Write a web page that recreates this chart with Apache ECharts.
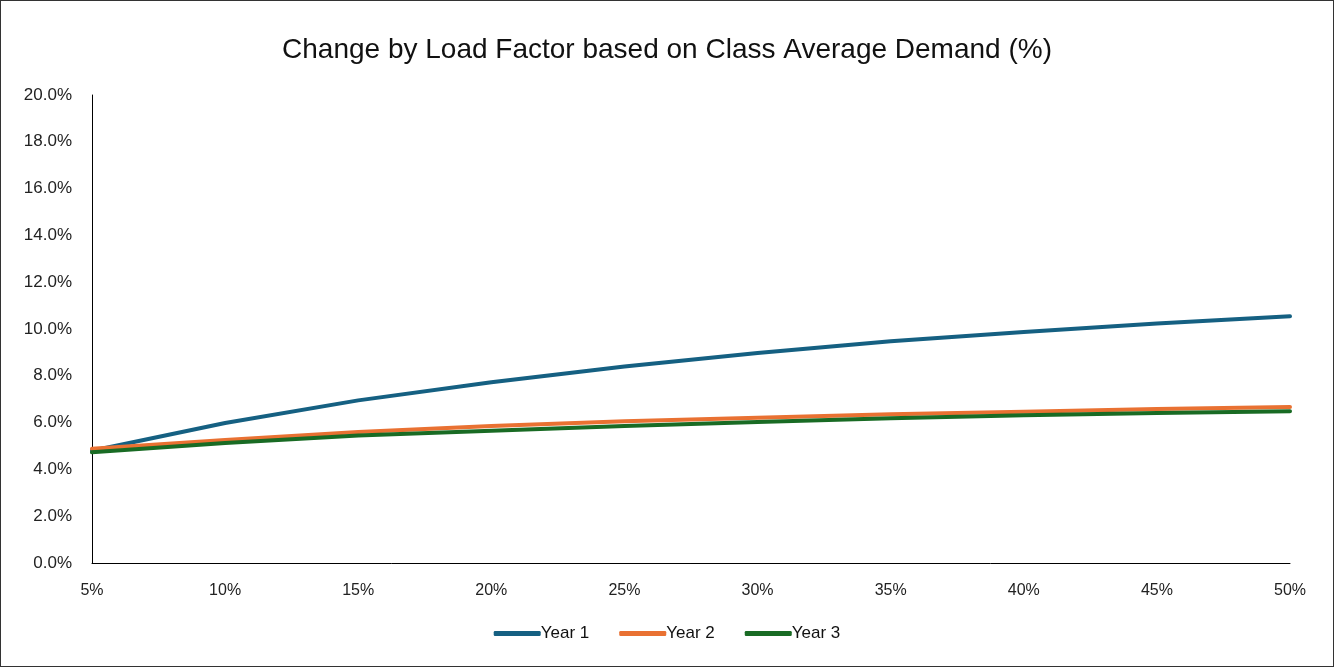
<!DOCTYPE html>
<html><head><meta charset="utf-8">
<script src="https://cdn.jsdelivr.net/npm/echarts@6/dist/echarts.min.js"></script>
<style>
html,body{margin:0;padding:0;background:#fff;}
#frame{position:absolute;left:0;top:0;width:1332px;height:665px;border:1px solid #333;}
#c{position:absolute;left:0;top:0;width:1334px;height:667px;}
</style></head>
<body><div id="frame"></div><div id="c"></div>
<script>
const categories = ['5%','10%','15%','20%','25%','30%','35%','40%','45%','50%'];
const year1 = [4.80, 5.98, 6.95, 7.72, 8.40, 8.97, 9.48, 9.87, 10.24, 10.54];
const year2 = [4.88, 5.26, 5.60, 5.85, 6.06, 6.21, 6.36, 6.46, 6.58, 6.67];
const year3 = [4.73, 5.13, 5.45, 5.65, 5.85, 6.03, 6.19, 6.31, 6.41, 6.49];
const seriesNames = ['Year 1','Year 2','Year 3'];
const colors = ['#156082','#E97132','#196B24'];

const chart = echarts.init(document.getElementById('c'));
const font = '"Liberation Sans", Arial, sans-serif';
chart.setOption({
  animation:false,
  title:{text:'Change by Load Factor based on Class Average Demand (%)',left:'center',top:31,
    textStyle:{fontFamily:font,fontSize:28,fontWeight:'normal',color:'#111'}},
  grid:{left:92,right:44,top:95,bottom:104,containLabel:false},
  legend:{bottom:20,left:'center',itemWidth:47,itemHeight:5,itemGap:30,icon:'roundRect',
    data:seriesNames,textStyle:{fontFamily:font,fontSize:17,color:'#111',padding:[0,0,0,-5]}},
  xAxis:{type:'category',data:categories,boundaryGap:false,
    axisLine:{lineStyle:{color:'#000',width:1}},axisTick:{show:false},
    axisLabel:{fontFamily:font,fontSize:16,color:'#222',margin:20}},
  yAxis:{type:'value',min:0,max:20,interval:2,
    axisLine:{show:true,lineStyle:{color:'#000',width:1}},axisTick:{show:false},splitLine:{show:false},
    axisLabel:{fontFamily:font,fontSize:17,color:'#222',margin:20,formatter:v=>v.toFixed(1)+'%'}},
  series:[year1,year2,year3].map((d,i)=>({name:seriesNames[i],type:'line',data:d,
    symbol:'none',smooth:false,lineStyle:{width:4,color:colors[i],cap:'round',join:'round'},itemStyle:{color:colors[i]}}))
});
</script></body></html>
